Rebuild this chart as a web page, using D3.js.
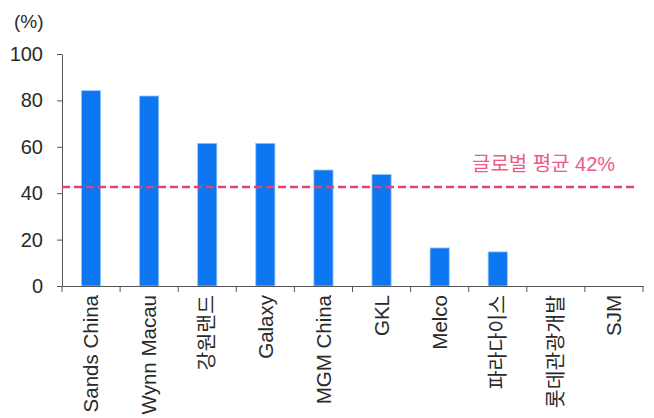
<!DOCTYPE html>
<html>
<head>
<meta charset="utf-8">
<script src="https://cdn.jsdelivr.net/npm/d3@7"></script>
<style>
  body { margin: 0; background: #fff; }
  svg text { font-family: "Liberation Sans", "Noto Sans CJK KR", sans-serif; }
</style>
</head>
<body>
<div id="chart"></div>
<script>
var categories = ["Sands China", "Wynn Macau", "강원랜드", "Galaxy", "MGM China", "GKL", "Melco", "파라다이스", "롯데관광개발", "SJM"];
var values = [84.2, 81.9, 61.5, 61.5, 50, 48.1, 16.4, 14.7, 0, 0];
var avgValue = 42.7;
var avgLabel = "글로벌 평균 42%";
var yTicks = [0, 20, 40, 60, 80, 100];

var w_width = 654, w_height = 418;
var margin = {top: 54, right: 11, bottom: 132, left: 62},
    width = w_width - margin.left - margin.right,
    height = w_height - margin.top - margin.bottom;

var svg = d3.select("#chart").append("svg")
    .attr("width", w_width)
    .attr("height", w_height);

var x = d3.scaleBand().domain(categories).range([0, width]).padding(0),
    y = d3.scaleLinear().domain([0, 100]).range([height, 0]);

var g = svg.append("g")
    .attr("transform", "translate(" + margin.left + "," + margin.top + ")");

// bars
var barW = x.bandwidth() * 0.33;
g.selectAll(".bar")
    .data(values)
  .enter().append("rect")
    .attr("class", "bar")
    .attr("x", function(d, i) { return x(categories[i]) + (x.bandwidth() - barW) / 2; })
    .attr("y", function(d) { return y(d); })
    .attr("width", barW)
    .attr("height", function(d) { return height - y(d); })
    .attr("fill", "#0d77f2")
    .attr("stroke", "#9cc7fb")
    .attr("stroke-width", 0.8);

// y axis
var yAxis = g.append("g")
    .call(d3.axisLeft(y).tickValues(yTicks).tickSize(5).tickPadding(14).tickSizeOuter(0));
yAxis.select(".domain").attr("stroke", "#555");
yAxis.selectAll(".tick line").attr("stroke", "#555");
yAxis.selectAll("text").attr("font-size", 20).attr("fill", "#2a2a2a");

// x axis: labels centered, ticks at band boundaries
var xAxis = g.append("g")
    .attr("transform", "translate(0," + height + ")")
    .call(d3.axisBottom(x).tickSize(0).tickSizeOuter(0));
xAxis.select(".domain").attr("stroke", "#555");
xAxis.selectAll("text")
    .attr("font-size", 20.5)
    .attr("fill", "#2a2a2a")
    .attr("transform", "rotate(-90)")
    .attr("text-anchor", "end")
    .attr("dy", "0.35em")
    .attr("x", -9)
    .attr("y", 0);

var bounds = categories.map(function(c) { return x(c); }).concat([width]);
xAxis.selectAll(".bound")
    .data(bounds)
  .enter().append("line")
    .attr("class", "bound")
    .attr("x1", function(d) { return d; })
    .attr("x2", function(d) { return d; })
    .attr("y1", 0)
    .attr("y2", 6)
    .attr("stroke", "#555");

// average line
g.append("line")
    .attr("x1", 0)
    .attr("x2", width - 6)
    .attr("y1", y(avgValue))
    .attr("y2", y(avgValue))
    .attr("stroke", "#e8416f")
    .attr("stroke-width", 2.5)
    .attr("stroke-dasharray", "8,4");

g.append("text")
    .attr("x", 410)
    .attr("y", y(avgValue) - 16)
    .attr("font-size", 20)
    .attr("fill", "#ee5a86")
    .text(avgLabel);

// unit label
svg.append("text")
    .attr("x", 14)
    .attr("y", 28)
    .attr("font-size", 19)
    .attr("fill", "#2a2a2a")
    .text("(%)");
</script>
</body>
</html>
